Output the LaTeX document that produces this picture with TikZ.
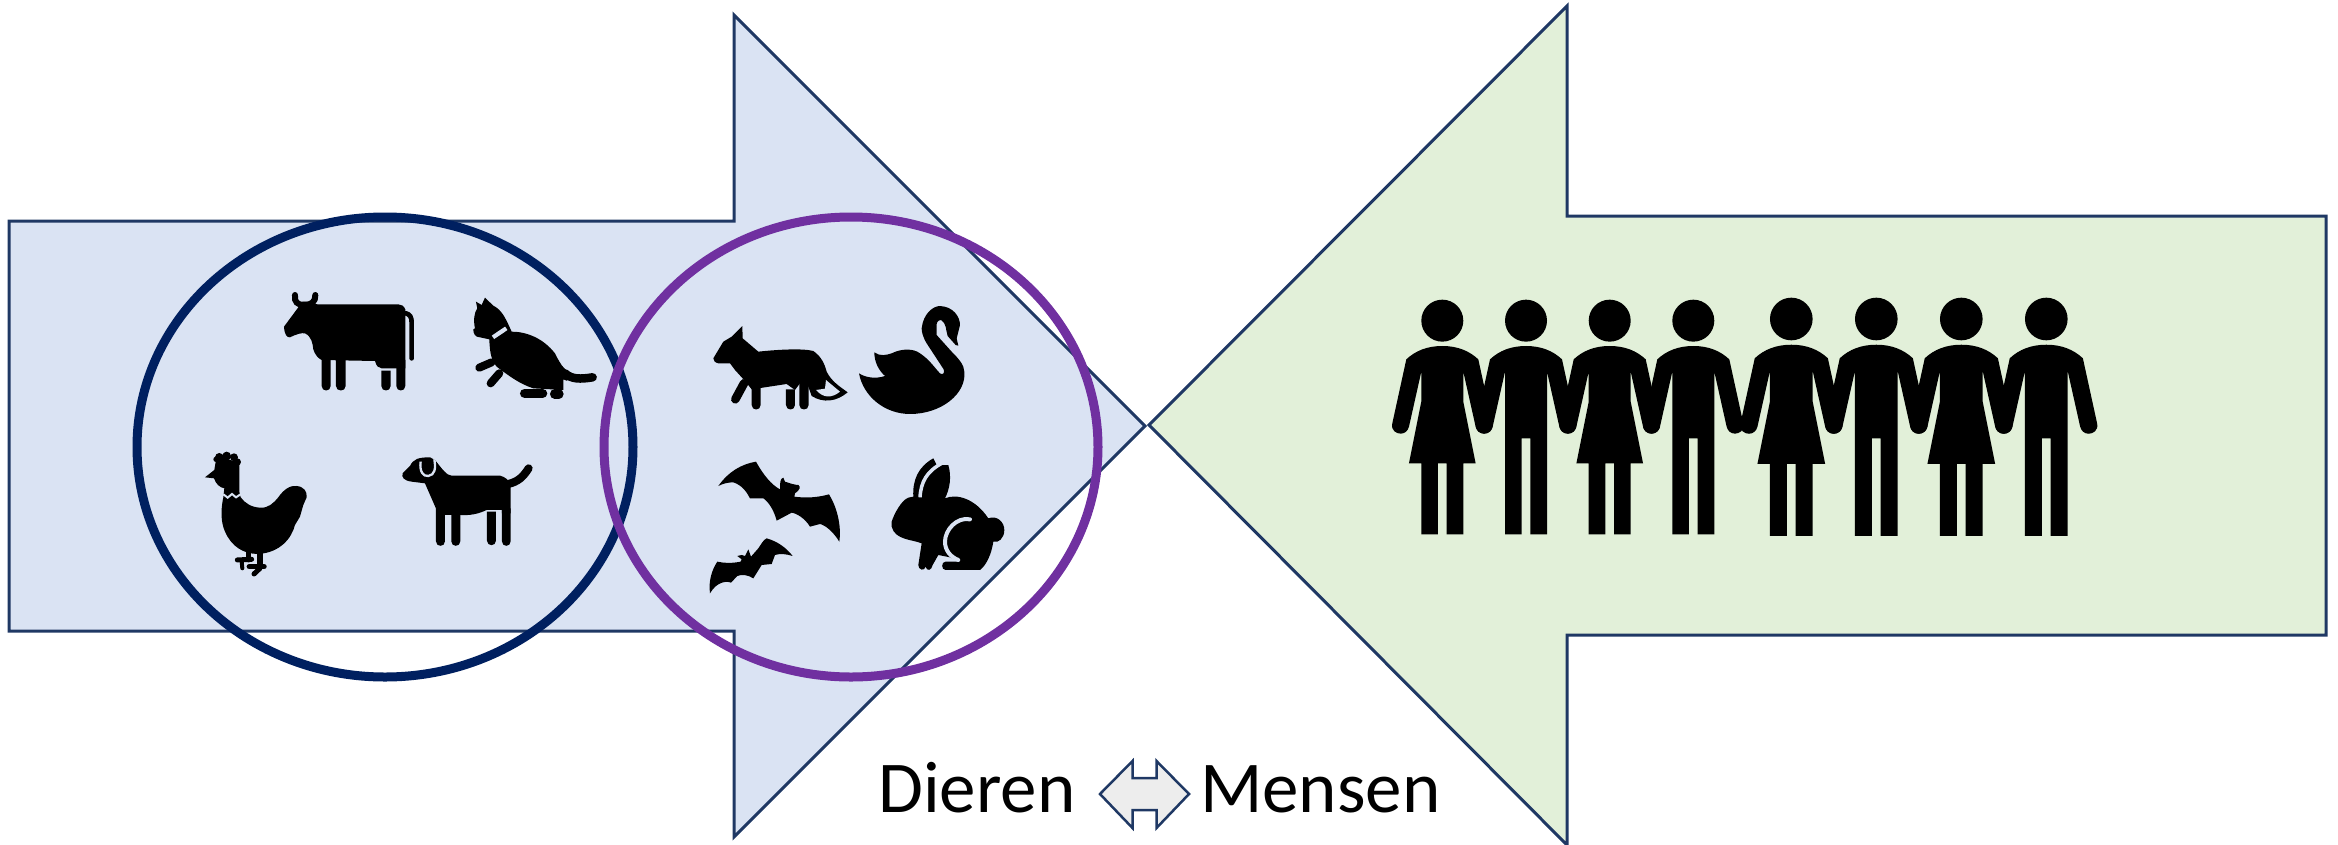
\documentclass[tikz,border=0pt]{standalone}
\usepackage{fontspec}
\setmainfont{Carlito}
\definecolor{arrowline}{HTML}{1F3864}
\definecolor{bluefill}{HTML}{DAE3F3}
\definecolor{greenfill}{HTML}{E2F0D9}
\definecolor{navyring}{HTML}{002060}
\definecolor{purplering}{HTML}{7030A0}
\definecolor{lightgrey}{HTML}{EDEDED}
\tikzset{
  bigarrow/.style={draw=arrowline,line width=3pt,line join=miter},
  ring/.style={line width=9pt,fill=none},
  limb/.style={line cap=round,line width=#1 pt,black},
  detail/.style={draw=bluefill,line width=#1 pt},
  zoomed/.style={x=0.3333pt,y=-0.3333pt},
  labeltext/.style={anchor=base west,inner sep=0pt,font=\fontsize{73}{80}\selectfont}
}
\newcommand{\legbar}[4]{\fill (#1,#3) -- (#1,#4) .. controls +(0,18) and +(0,18) .. (#2,#4) -- (#2,#3) -- cycle;}
\newcommand{\womanfig}{%
  \fill (0,122) circle (63);
  \fill (0,198) .. controls (45,198) and (80,212) .. (108,238) -- (150,430)
    .. controls (155,452) and (137,461) .. (125,461) .. controls (112,461) and (103,452) .. (100,440)
    -- (63,275) -- (63,365) -- (100,550) -- (63,550) -- (63,763) -- (13,763) -- (13,550) -- (-13,550)
    -- (-13,763) -- (-63,763) -- (-63,550) -- (-100,550) -- (-63,365) -- (-63,275) -- (-100,440)
    .. controls (-103,452) and (-112,461) .. (-125,461) .. controls (-137,461) and (-155,452) .. (-150,430)
    -- (-108,238) .. controls (-80,212) and (-45,198) .. (0,198) -- cycle;}
\newcommand{\manfig}{%
  \fill (0,122) circle (63);
  \fill (0,198) .. controls (45,198) and (80,212) .. (108,238) -- (150,430)
    .. controls (155,452) and (137,461) .. (125,461) .. controls (112,461) and (103,452) .. (100,440)
    -- (63,275) -- (63,763) -- (13,763) -- (13,475) -- (-13,475)
    -- (-13,763) -- (-63,763) -- (-63,275) -- (-100,440)
    .. controls (-103,452) and (-112,461) .. (-125,461) .. controls (-137,461) and (-155,452) .. (-150,430)
    -- (-108,238) .. controls (-80,212) and (-45,198) .. (0,198) -- cycle;}
\begin{document}
\begin{tikzpicture}[x=1pt,y=-1pt]
\useasboundingbox (0,0) rectangle (2338,844);
% big arrows
\draw[bigarrow,fill=bluefill] (9,221) -- (734,221) -- (734,15) -- (1145,426) -- (734,837) -- (734,631) -- (9,631) -- cycle;
\draw[bigarrow,fill=greenfill] (2326,216) -- (1567,216) -- (1567,6) -- (1149,425) -- (1567,845) -- (1567,635) -- (2326,635) -- cycle;
% rings
\draw[ring,navyring] (385,447) ellipse [x radius=248,y radius=230];
\draw[ring,purplering] (851,447) ellipse [x radius=247,y radius=230];

% cow, cat, hen, dog
\begin{scope}[shift={(180,260)},zoomed]
  % cow
  \fill (355,142) -- (312,200) .. controls (314,225) and (320,232) .. (330,232)
    .. controls (350,222) and (365,218) .. (375,220) .. controls (395,230) and (398,250) .. (400,268)
    .. controls (405,285) and (415,295) .. (425,300) -- (585,303) .. controls (590,320) and (595,323) .. (605,325)
    -- (676,325) -- (676,148) .. controls (672,138) and (665,133) .. (655,133) -- (412,133) -- (385,125) -- (368,125) -- cycle;
  \draw[limb=6] (345,105) .. controls (342,125) and (352,135) .. (372,135) .. controls (395,135) and (407,125) .. (406,105);
  \legbar{425}{452}{295}{378}
  \legbar{468}{497}{295}{378}
  \legbar{604}{632}{332}{378}
  \legbar{649}{676}{300}{378}
  \draw[limb=4.7] (678,160) .. controls (690,163) and (695,172) .. (695,187) -- (695,295);
  % cat
  \fill (888,125) -- (905,135) -- (915,113) -- (940,137) .. controls (965,150) and (975,170) .. (995,215)
    .. controls (1040,215) and (1090,235) .. (1125,280) .. controls (1145,320) and (1155,335) .. (1190,345)
    -- (1160,362) -- (1150,358) -- (1150,390) -- (1060,385) .. controls (1020,372) and (990,350) .. (950,320)
    .. controls (935,300) and (930,285) .. (928,238) -- (900,232) .. controls (885,232) and (880,220) .. (880,208)
    -- (885,205) .. controls (880,180) and (882,160) .. (892,145) -- cycle;
  \draw[limb=9.3] (1034,400) -- (1088,400);
  \draw[limb=9.3] (1124,402) -- (1137,402);
  \draw[limb=8] (898,323) -- (935,307);
  \draw[limb=8] (932,370) -- (958,340);
  \draw[limb=8.5] (1155,340) .. controls (1175,358) and (1200,358) .. (1238,352);
  \draw[detail=4.2] (939,232) -- (979,205);
  % hen
  \fill (75,652) -- (103,630) -- (108,600) -- (125,590) -- (178,610) -- (178,695) -- (182,712)
    .. controls (195,730) and (215,742) .. (240,743) .. controls (265,745) and (280,730) .. (295,712)
    .. controls (310,690) and (330,675) .. (350,678) .. controls (372,680) and (382,695) .. (380,712)
    -- (370,735) -- (360,770) -- (345,795) .. controls (335,835) and (300,878) .. (235,882)
    .. controls (190,882) and (155,860) .. (135,815) .. controls (122,785) and (122,750) .. (130,712)
    -- (133,685) .. controls (118,682) and (108,672) .. (102,655) -- cycle;
  \foreach \cx/\cy/\cr in {118/592/13,140/588/13,162/592/12,172/606/11,108/598/8}{\fill (\cx,\cy) circle (\cr);}
  \draw[detail=2] (130,703) -- (143,713) -- (156,702) -- (168,712) -- (183,702);
  \draw[limb=5] (207,875) -- (207,900);
  \draw[limb=5] (172,900) -- (215,898);
  \draw[limb=4] (185,903) -- (187,925);
  \draw[limb=5.5] (240,880) -- (240,918);
  \draw[limb=5.5] (208,920) -- (252,920);
  \draw[limb=5] (240,925) -- (222,942);
  % dog
  \fill (668,640) -- (690,618) .. controls (700,597) and (715,592) .. (750,592) -- (765,600)
    .. controls (785,625) and (800,647) .. (815,647) -- (960,647) .. controls (975,650) and (985,660) .. (992,672)
    -- (992,760) -- (966,760) -- (966,750) -- (920,750) .. controls (895,762) and (870,767) .. (840,765)
    -- (770,765) -- (770,750) -- (735,670) -- (695,665) .. controls (672,662) and (664,652) .. (668,640) -- cycle;
  \draw[limb=8] (985,672) .. controls (1015,665) and (1030,650) .. (1046,625);
  \legbar{768}{795}{745}{844}
  \legbar{814}{841}{760}{844}
  \legbar{921}{948}{755}{842}
  \legbar{966}{992}{745}{844}
  \draw[detail=2.3] (722,605) .. controls (718,635) and (730,650) .. (745,648) .. controls (765,645) and (768,625) .. (763,598);
\end{scope}

% fox
\begin{scope}[shift={(680,270)},zoomed]
  \fill (100,265) -- (130,215) -- (155,200) -- (187,168) -- (188,205) -- (235,245)
    .. controls (300,238) and (370,235) .. (400,243) .. controls (425,260) and (435,285) .. (440,305)
    .. controls (455,335) and (480,350) .. (503,367) .. controls (470,395) and (430,400) .. (395,378)
    -- (385,350) -- (360,340) -- (345,360) -- (320,342) -- (215,358) -- (195,333) -- (165,300) -- (150,280)
    -- (115,280) .. controls (105,278) and (100,272) .. (100,265) -- cycle;
  \draw[limb=8.6] (192,340) -- (166,388);
  \legbar{215}{242}{340}{405}
  \legbar{318}{345}{358}{405}
  \legbar{358}{386}{335}{405}
  \fill[bluefill] (408,360) -- (435,356) -- (438,330) -- (480,365) .. controls (455,385) and (430,385) .. (408,360) -- cycle;
\end{scope}

% swan
\begin{scope}[shift={(855,300)},zoomed]
  \fill (12,220) .. controls (30,232) and (60,238) .. (90,228) .. controls (70,210) and (58,185) .. (58,157)
    .. controls (75,170) and (95,165) .. (110,160) .. controls (140,145) and (175,145) .. (195,160)
    .. controls (225,180) and (240,205) .. (255,220) .. controls (263,226) and (270,220) .. (266,208)
    -- (215,130) .. controls (203,110) and (200,95) .. (200,85) .. controls (205,40) and (235,18) .. (255,18)
    .. controls (295,20) and (315,50) .. (315,75) -- (305,115) -- (310,137) -- (302,135) -- (278,108)
    .. controls (272,90) and (275,70) .. (258,60) .. controls (248,60) and (243,70) .. (245,80)
    -- (245,105) -- (290,155) .. controls (310,175) and (328,195) .. (328,215)
    .. controls (335,280) and (260,342) .. (165,342) .. controls (90,342) and (25,290) .. (12,220) -- cycle;
\end{scope}

% rabbit
\begin{scope}[shift={(885,450)},zoomed]
  \fill (20,215) .. controls (28,190) and (50,150) .. (70,143) -- (85,140)
    .. controls (82,90) and (100,50) .. (145,25) -- (155,45) -- (190,45)
    .. controls (200,80) and (195,115) .. (180,145) .. controls (215,130) and (270,145) .. (310,205)
    .. controls (335,195) and (358,215) .. (358,240) .. controls (358,265) and (340,280) .. (325,275)
    .. controls (320,310) and (305,345) .. (285,360) -- (182,360) .. controls (168,360) and (168,335) .. (182,335)
    -- (222,335) -- (195,322) -- (160,315) -- (143,345) .. controls (140,362) and (125,365) .. (122,350)
    .. controls (118,365) and (100,360) .. (100,345) -- (110,280) .. controls (80,268) and (30,270) .. (20,230) -- cycle;
  \draw[detail=4,line cap=round] (255,208) .. controls (215,200) and (180,240) .. (180,275) .. controls (180,300) and (195,320) .. (220,330);
  \draw[detail=3.5] (105,142) .. controls (108,95) and (125,65) .. (170,40);
  \fill[bluefill] (155,45) -- (192,25) -- (192,44) -- cycle;
\end{scope}

% bats
\begin{scope}[shift={(700,450)},zoomed]
  \fill (55,108) .. controls (85,65) and (125,42) .. (168,35) .. controls (190,75) and (215,105) .. (240,118)
    .. controls (240,100) and (240,85) .. (250,83) -- (255,95) .. controls (270,100) and (285,105) .. (295,105)
    .. controls (303,110) and (300,120) .. (285,130) -- (283,140) .. controls (320,145) and (355,142) .. (387,133)
    .. controls (410,170) and (425,225) .. (418,275) .. controls (400,245) and (375,225) .. (360,222)
    -- (330,230) .. controls (315,205) and (290,190) .. (275,188) -- (230,212) .. controls (222,180) and (205,155) .. (190,145)
    -- (150,145) .. controls (140,125) and (125,105) .. (100,97) .. controls (85,97) and (70,100) .. (55,108) -- cycle;
  \fill (30,430) .. controls (25,395) and (35,360) .. (52,335) .. controls (75,340) and (95,340) .. (122,335)
    -- (125,328) -- (112,318) -- (125,315) -- (135,318) -- (145,298) -- (153,320) -- (175,295)
    .. controls (185,280) and (190,270) .. (200,265) .. controls (235,275) and (260,295) .. (278,318)
    .. controls (260,312) and (240,310) .. (225,315) -- (215,342) -- (185,345) -- (160,385)
    .. controls (145,375) and (125,372) .. (112,378) -- (93,398) .. controls (80,392) and (50,395) .. (30,430) -- cycle;
\end{scope}

% people
\foreach \cx/\kind in {1442.3/\womanfig,1526/\manfig,1609.7/\womanfig,1693.3/\manfig}{
  \begin{scope}[shift={(\cx,280)},zoomed]\kind\end{scope}
}
\foreach \cx/\kind in {1791.3/\womanfig,1876.3/\manfig,1961.3/\womanfig,2046.3/\manfig}{
  \begin{scope}[shift={(\cx,277.7)},x=0.3385pt,y=-0.3385pt]\kind\end{scope}
}

% label row
\node[labeltext] (dieren) at (878,812) {Dieren};
\node[labeltext] (mensen) at (1200,812) {Mensen};
\draw[draw=arrowline,line width=2.5pt,fill=lightgrey,line join=miter] (1100,794) -- (1132.5,761) -- (1132.5,778) -- (1156.5,778) -- (1156.5,761) -- (1189,794) -- (1156.5,828) -- (1156.5,810) -- (1132.5,810) -- (1132.5,828) -- cycle;
\end{tikzpicture}
\end{document}
